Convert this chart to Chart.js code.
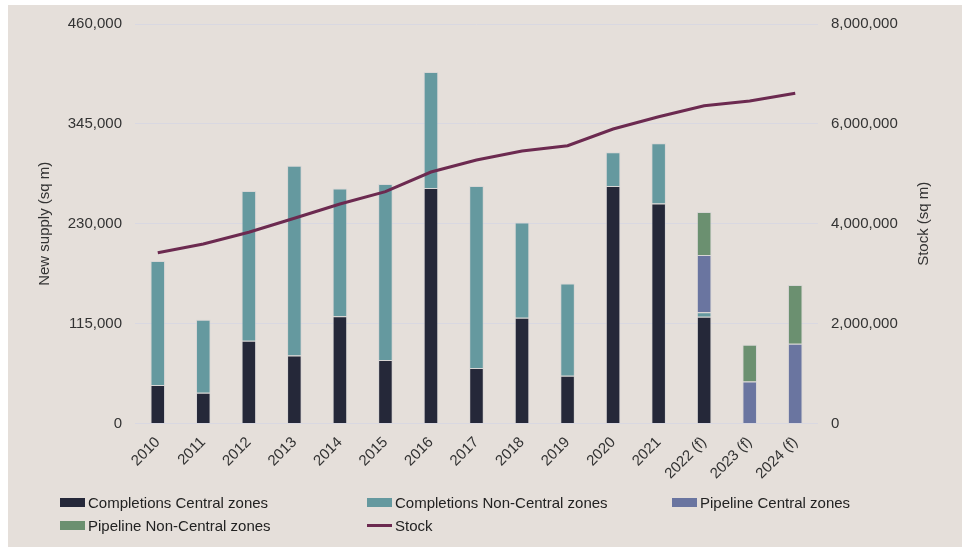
<!DOCTYPE html>
<html>
<head>
<meta charset="utf-8">
<script src="https://cdn.jsdelivr.net/npm/chart.js@4.4.0/dist/chart.umd.min.js"></script>
<style>
    html, body { margin: 0; padding: 0; background: #ffffff; }
    #frame { position: absolute; left: 8px; top: 5px; width: 954px; height: 542px; background: #e5dfda; }
    #chart { position: absolute; left: 0; top: 0; }
    #legend { position: absolute; left: 0; top: 0; width: 966px; height: 547px; pointer-events: none;
        font-family: "Liberation Sans", Arial, sans-serif; font-size: 15px; color: #222; }
    .item { position: absolute; display: flex; align-items: center; height: 20px; white-space: nowrap; }
    .swatch { width: 25px; height: 9px; margin-right: 3px; }
    .swatch.line { height: 3px; }
</style>
</head>
<body>
<div id="frame"></div>
<canvas id="chart" width="966" height="547"></canvas>
<div id="legend"></div>
<script>
document.addEventListener('DOMContentLoaded', () => {
    const years = ['2010', '2011', '2012', '2013', '2014', '2015', '2016', '2017', '2018', '2019', '2020', '2021', '2022 (f)', '2023 (f)', '2024 (f)'];

    // new supply, sq m
    const completionsCentral = [44300, 35400, 95200, 78400, 123600, 73000, 271200, 63800, 121700, 55000, 273500, 253200, 122800, 0, 0];
    const completionsNonCentral = [142900, 84000, 172500, 218500, 146900, 202700, 133400, 209700, 109700, 106200, 38700, 69400, 5400, 0, 0];
    const pipelineCentral = [0, 0, 0, 0, 0, 0, 0, 0, 0, 0, 0, 0, 65900, 48500, 91800];
    const pipelineNonCentral = [0, 0, 0, 0, 0, 0, 0, 0, 0, 0, 0, 0, 49400, 42100, 67800];

    // stock, sq m
    const stock = [3420000, 3594000, 3829000, 4109000, 4395000, 4642000, 5036000, 5277000, 5457000, 5563000, 5897000, 6144000, 6364000, 6458000, 6612000];

    const supplyTicks = [0, 115000, 230000, 345000, 460000];
    const stockTicks = [0, 2000000, 4000000, 6000000, 8000000];

    const font = "'Liberation Sans', Arial, sans-serif";
    const textColor = '#333333';
    const edge = 'rgba(205, 205, 210, 0.55)';

    const barSet = (label, data, color) => ({
        type: 'bar',
        label: label,
        data: data,
        backgroundColor: color,
        borderColor: edge,
        borderWidth: 1,
        yAxisID: 'y',
        stack: 'supply',
        order: 1
    });

    // right axis title reads bottom-to-top in the original, so draw it here
    const stockTitle = {
        id: 'stockTitle',
        afterDraw(chart) {
            const s = chart.scales.y1;
            const ctx = chart.ctx;
            ctx.save();
            ctx.translate(924, (s.top + s.bottom) / 2);
            ctx.rotate(-Math.PI / 2);
            ctx.font = '15px ' + font;
            ctx.fillStyle = textColor;
            ctx.textAlign = 'center';
            ctx.textBaseline = 'middle';
            ctx.fillText('Stock (sq m)', 0, 0);
            ctx.restore();
        }
    };

    const chart = new Chart(document.getElementById('chart'), {
        data: {
            labels: years,
            datasets: [
                barSet('Completions Central zones', completionsCentral, '#252839'),
                barSet('Completions Non-Central zones', completionsNonCentral, '#65999f'),
                barSet('Pipeline Central zones', pipelineCentral, '#6a75a0'),
                barSet('Pipeline Non-Central zones', pipelineNonCentral, '#6b9070'),
                {
                    type: 'line',
                    label: 'Stock',
                    data: stock,
                    borderColor: '#6c2a50',
                    backgroundColor: '#6c2a50',
                    borderWidth: 3,
                    pointRadius: 0,
                    tension: 0,
                    yAxisID: 'y1',
                    order: 0
                }
            ]
        },
        options: {
            responsive: false,
            animation: false,
            layout: { padding: { top: 24, left: 0, right: 0, bottom: 0 } },
            plugins: {
                legend: { display: false },
                tooltip: { enabled: false }
            },
            datasets: {
                bar: { categoryPercentage: 0.8, barPercentage: 0.4 }
            },
            scales: {
                x: {
                    stacked: true,
                    grid: { display: false },
                    border: { display: false },
                    ticks: {
                        color: textColor,
                        font: { family: font, size: 15 },
                        minRotation: 45,
                        maxRotation: 45,
                        padding: 2
                    },
                    afterFit: (scale) => { scale.height = 123.5; }
                },
                y: {
                    stacked: true,
                    position: 'left',
                    min: 0,
                    max: 460000,
                    afterBuildTicks: (scale) => { scale.ticks = supplyTicks.map(v => ({ value: v })); },
                    grid: { color: '#d9d8e1', lineWidth: 1, drawTicks: false },
                    border: { display: false },
                    ticks: {
                        color: textColor,
                        font: { family: font, size: 15 },
                        padding: 13,
                        callback: (v) => v.toLocaleString('en-US')
                    },
                    title: {
                        display: true,
                        text: 'New supply (sq m)',
                        color: textColor,
                        font: { family: font, size: 15 },
                        padding: { top: 36, bottom: 0 }
                    },
                    afterFit: (scale) => { scale.width = 135; }
                },
                y1: {
                    stacked: false,
                    position: 'right',
                    min: 0,
                    max: 8000000,
                    afterBuildTicks: (scale) => { scale.ticks = stockTicks.map(v => ({ value: v })); },
                    grid: { display: false, drawTicks: false },
                    border: { display: false },
                    ticks: {
                        color: textColor,
                        font: { family: font, size: 15 },
                        padding: 13,
                        callback: (v) => v.toLocaleString('en-US')
                    },
                    afterFit: (scale) => { scale.width = 148; }
                }
            }
        },
        plugins: [stockTitle]
    });

    // legend laid out in three columns, like the original
    const legend = document.getElementById('legend');
    const cols = [60, 367, 672];
    const rows = [492, 515];
    chart.data.datasets.forEach((ds, i) => {
        const item = document.createElement('div');
        item.className = 'item';
        item.style.left = cols[i % 3] + 'px';
        item.style.top = rows[Math.floor(i / 3)] + 'px';
        const sw = document.createElement('span');
        sw.className = 'swatch' + (ds.type === 'line' ? ' line' : '');
        sw.style.background = ds.type === 'line' ? ds.borderColor : ds.backgroundColor;
        item.appendChild(sw);
        item.appendChild(document.createTextNode(ds.label));
        legend.appendChild(item);
    });
});
</script>
</body>
</html>
